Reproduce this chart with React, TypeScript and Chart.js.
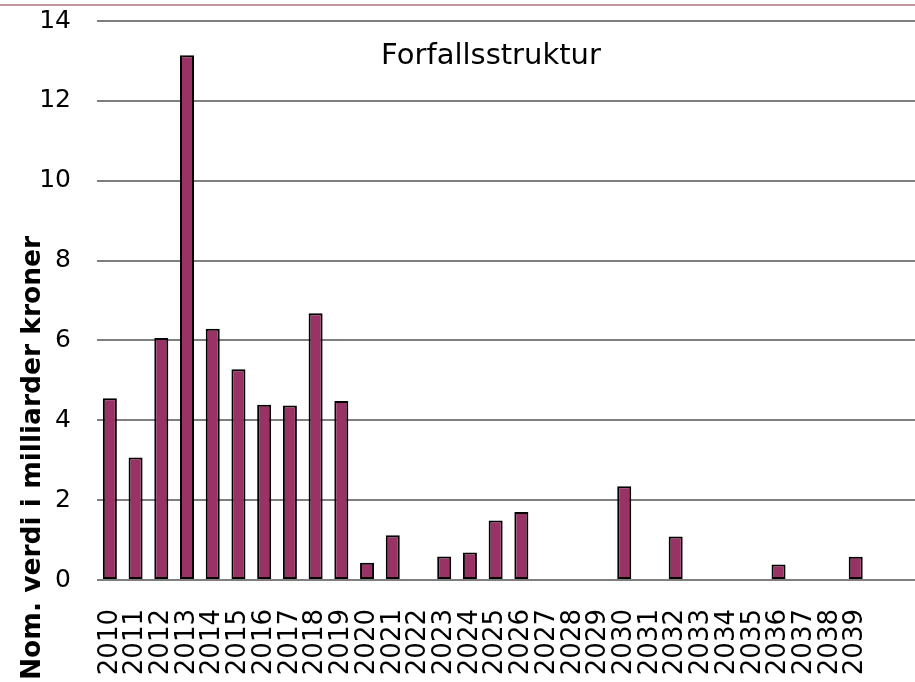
import React, { useEffect, useRef } from "react";
import { Chart, registerables } from "chart.js";

Chart.register(...registerables);

const categories: string[] = [
  "2010", "2011", "2012", "2013", "2014", "2015", "2016", "2017", "2018", "2019",
  "2020", "2021", "2022", "2023", "2024", "2025", "2026", "2027", "2028", "2029",
  "2030", "2031", "2032", "2033", "2034", "2035", "2036", "2037", "2038", "2039",
  "", "",
];

const values: (number | null)[] = [
  4.55, 3.07, 6.06, 13.14, 6.29, 5.28, 4.39, 4.37, 6.68, 4.48,
  0.43, 1.12, null, 0.59, 0.69, 1.49, 1.7, null, null, null,
  2.35, null, 1.09, null, null, null, 0.39, null, null, 0.58,
  null, null,
];

const yTicks: number[] = [0, 2, 4, 6, 8, 10, 12, 14];

const chartTitle = "Forfallsstruktur";
const yTitle = "Nom. verdi i milliarder kroner";

const FONT = "'DejaVu Sans', Verdana, sans-serif";

const textPlugin = {
  id: "customText",
  afterDraw(chart: any) {
    const ctx = chart.ctx;
    ctx.save();
    ctx.fillStyle = "#000";
    ctx.font = `29px ${FONT}`;
    ctx.textAlign = "center";
    ctx.textBaseline = "middle";
    ctx.fillText(chartTitle, 491, 56);
    ctx.translate(33, 458);
    ctx.rotate(-Math.PI / 2);
    ctx.font = `bold 26.5px ${FONT}`;
    ctx.fillText(yTitle, 0, 0);
    ctx.restore();
  },
};

const zeroPadding = (scale: any) => {
  scale.paddingTop = 0;
  scale.paddingBottom = 0;
  scale.paddingLeft = 0;
  scale.paddingRight = 0;
};

export default function App() {
  const ref = useRef<HTMLCanvasElement | null>(null);

  useEffect(() => {
    if (!ref.current) return;
    const chart = new Chart(ref.current, {
      type: "bar",
      data: {
        labels: categories,
        datasets: [
          {
            data: values,
            backgroundColor: "#993366",
            borderColor: "#000000",
            borderWidth: 2,
            borderSkipped: false,
            barPercentage: 0.545,
            categoryPercentage: 1,
          },
        ],
      },
      options: {
        responsive: false,
        animation: false,
        layout: { padding: { top: 21, left: 0, right: 0, bottom: 0 } },
        plugins: {
          legend: { display: false },
          tooltip: { enabled: false },
          title: { display: false },
        },
        scales: {
          x: {
            grid: { display: false },
            border: { display: false },
            ticks: {
              autoSkip: false,
              minRotation: 90,
              maxRotation: 90,
              padding: 21,
              color: "#000",
              font: { family: FONT, size: 26 },
            },
            afterFit: (scale: any) => {
              scale.height = 102;
              zeroPadding(scale);
            },
          },
          y: {
            min: 0,
            max: 14,
            afterBuildTicks: (scale: any) => {
              scale.ticks = yTicks.map((v) => ({ value: v }));
            },
            grid: { color: "#7f7f7f", lineWidth: 2, drawTicks: false },
            border: { display: false },
            ticks: {
              padding: 26,
              color: "#000",
              font: { family: FONT, size: 25 },
            },
            afterFit: (scale: any) => {
              scale.width = 97;
              zeroPadding(scale);
            },
          },
        },
      },
      plugins: [textPlugin],
    });
    return () => chart.destroy();
  }, []);

  return (
    <div
      style={{
        position: "fixed",
        left: 0,
        top: 0,
        width: 915,
        height: 682,
        overflow: "hidden",
        background: "#fff",
      }}
    >
      <div
        style={{
          position: "absolute",
          left: 0,
          top: 4,
          width: 915,
          height: 2,
          background: "#c4979c",
        }}
      />
      <canvas ref={ref} width={920} height={682} style={{ display: "block" }} />
    </div>
  );
}
